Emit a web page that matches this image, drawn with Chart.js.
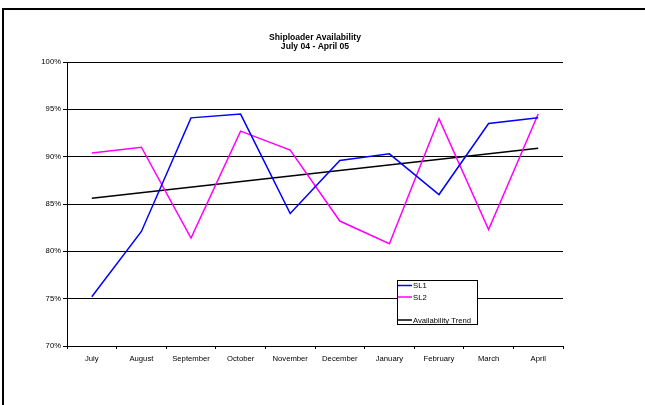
<!DOCTYPE html>
<html>
<head>
<meta charset="utf-8">
<script src="https://cdn.jsdelivr.net/npm/chart.js@4"></script>
<style>
  html, body { margin: 0; padding: 0; background: #fff; }
  #wrap { width: 645px; height: 405px; }
</style>
</head>
<body>
<div id="wrap"><canvas id="c" width="645" height="405"></canvas></div>
<script>
// Monthly availability, July 2004 to April 2005
const months = ['July', 'August', 'September', 'October', 'November', 'December', 'January', 'February', 'March', 'April'];
const sl1 = [75.2, 82.1, 94.1, 94.5, 84.0, 89.6, 90.3, 86.0, 93.5, 94.1];
const sl2 = [90.4, 91.0, 81.4, 92.7, 90.7, 83.2, 80.8, 94.0, 82.3, 94.5];
// Linear trend: only its end points are given, the line spans the gap
const trend = [85.6, null, null, null, null, null, null, null, null, 90.9];
const titleLines = ['Shiploader Availability', 'July 04 - April 05'];
const legendRows = [0, 1, null, 2];

const FONT = "'Liberation Sans', Arial, sans-serif";

const framePlugin = {
  id: 'frame',
  beforeDraw(chart) {
    const ctx = chart.ctx;
    ctx.save();
    ctx.fillStyle = '#fff';
    ctx.fillRect(0, 0, chart.width, chart.height);
    ctx.fillStyle = '#000';
    ctx.fillRect(2, 8, chart.width - 2, 2);
    ctx.fillRect(2, 8, 2, chart.height - 8);
    ctx.restore();
  }
};

const titlePlugin = {
  id: 'twoLineTitle',
  afterDraw(chart) {
    const ctx = chart.ctx;
    const a = chart.chartArea;
    const cx = (a.left + a.right) / 2;
    ctx.save();
    ctx.fillStyle = '#000';
    ctx.font = 'bold 8.6px ' + FONT;
    ctx.textAlign = 'center';
    ctx.textBaseline = 'middle';
    titleLines.forEach((t, i) => ctx.fillText(t, cx, 38 + i * 9));
    ctx.restore();
  }
};

const legendPlugin = {
  id: 'boxLegend',
  afterDraw(chart) {
    const ctx = chart.ctx;
    const x = 397, y = 280, w = 80, h = 44;
    ctx.save();
    ctx.fillStyle = '#fff';
    ctx.fillRect(x, y, w, h);
    ctx.strokeStyle = '#000';
    ctx.lineWidth = 1;
    ctx.strokeRect(x + 0.5, y + 0.5, w, h);
    ctx.font = '7.7px ' + FONT;
    ctx.textAlign = 'left';
    ctx.textBaseline = 'middle';
    legendRows.forEach((di, i) => {
      if (di === null) return;
      const ds = chart.data.datasets[di];
      const ry = y + 5.5 + i * 11.5;
      ctx.strokeStyle = ds.borderColor;
      ctx.lineWidth = 1.5;
      ctx.beginPath();
      ctx.moveTo(x + 1, ry);
      ctx.lineTo(x + 15, ry);
      ctx.stroke();
      ctx.fillStyle = '#000';
      ctx.fillText(ds.label, x + 16, ry + 0.5);
    });
    ctx.restore();
  }
};

new Chart(document.getElementById('c'), {
  type: 'line',
  data: {
    labels: months,
    datasets: [
      { label: 'SL1', data: sl1, borderColor: '#0000ff', borderWidth: 1.5, pointRadius: 0, tension: 0, fill: false },
      { label: 'SL2', data: sl2, borderColor: '#ff00ff', borderWidth: 1.5, pointRadius: 0, tension: 0, fill: false },
      { label: 'Availability Trend', data: trend, borderColor: '#000000', borderWidth: 1.5, pointRadius: 0, tension: 0, fill: false, spanGaps: true }
    ]
  },
  options: {
    responsive: false,
    animation: false,
    events: [],
    layout: { padding: { top: 62, right: 82, bottom: 0, left: 0 } },
    plugins: {
      legend: { display: false },
      title: { display: false },
      tooltip: { enabled: false }
    },
    scales: {
      x: {
        offset: true,
        afterFit(s) { s.height = 59; },
        grid: { offset: true, drawOnChartArea: false, drawTicks: true, tickLength: 3, color: '#000', lineWidth: 1 },
        border: { display: true, color: '#000', width: 1 },
        ticks: { color: '#000', font: { family: FONT, size: 7.7 }, padding: 5, maxRotation: 0, autoSkip: false }
      },
      y: {
        min: 70,
        max: 100,
        afterFit(s) { s.width = 67; },
        grid: { color: '#000', lineWidth: 1, tickLength: 4, drawTicks: true },
        border: { display: true, color: '#000', width: 1 },
        ticks: { stepSize: 5, color: '#000', font: { family: FONT, size: 7.7 }, padding: 2, callback: v => v + '%' }
      }
    }
  },
  plugins: [framePlugin, titlePlugin, legendPlugin]
});
</script>
</body>
</html>
